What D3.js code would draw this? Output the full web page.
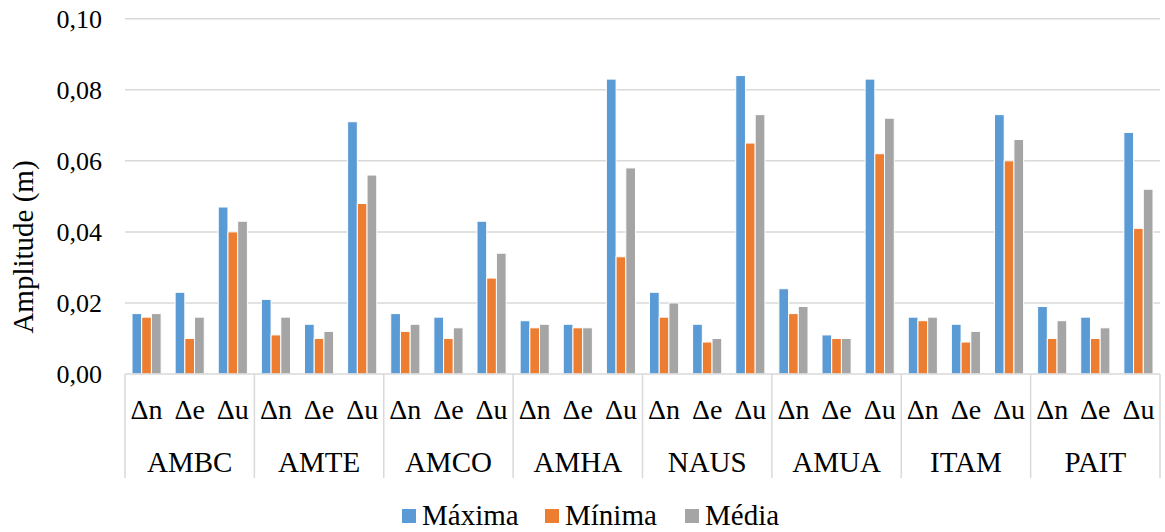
<!DOCTYPE html>
<html><head><meta charset="utf-8">
<script src="https://cdn.jsdelivr.net/npm/d3@7"></script>
<style>html,body{margin:0;padding:0;background:#fff;}svg{display:block;font-family:"Liberation Serif","Times New Roman",serif;}</style>
</head><body>
<svg id="chart" width="1165" height="532"></svg>
<script>
const stations = ["AMBC","AMTE","AMCO","AMHA","NAUS","AMUA","ITAM","PAIT"];
const components = ["Δn","Δe","Δu"];
const seriesNames = ["Máxima","Mínima","Média"];
const colors = ["#5B9BD5","#ED7D31","#A5A5A5"];
const yTicks = [0,0.02,0.04,0.06,0.08,0.10];
// values per station: [Δn, Δe, Δu]
const maxima = [
  [0.017,0.023,0.047],[0.021,0.014,0.071],[0.017,0.016,0.043],[0.015,0.014,0.083],
  [0.023,0.014,0.084],[0.024,0.011,0.083],[0.016,0.014,0.073],[0.019,0.016,0.068]];
const minima = [
  [0.016,0.010,0.040],[0.011,0.010,0.048],[0.012,0.010,0.027],[0.013,0.013,0.033],
  [0.016,0.009,0.065],[0.017,0.010,0.062],[0.015,0.009,0.060],[0.010,0.010,0.041]];
const media = [
  [0.017,0.016,0.043],[0.016,0.012,0.056],[0.014,0.013,0.034],[0.014,0.013,0.058],
  [0.020,0.010,0.073],[0.019,0.010,0.072],[0.016,0.012,0.066],[0.015,0.013,0.052]];
const seriesData = [maxima, minima, media];

const svg = d3.select("#chart");
const mLeft = 125, mRight = 1160, mTop = 18.7, mBottom = 374;
const x0 = d3.scaleBand().domain(stations).range([mLeft,mRight]).padding(0);
const x1 = d3.scaleBand().domain(components).range([0,x0.bandwidth()]).padding(0);
const x2 = d3.scaleBand().domain(seriesNames).range([0,x1.bandwidth()]).paddingInner(0).paddingOuter(0.72);
const y = d3.scaleLinear().domain([0,0.1]).range([mBottom,mTop]);

// gridlines
svg.append("g").selectAll("line").data(yTicks.filter(d=>d>0)).join("line")
  .attr("x1",mLeft).attr("x2",mRight).attr("y1",d=>y(d)).attr("y2",d=>y(d))
  .attr("stroke","#D9D9D9").attr("stroke-width",1.5);

// y tick labels
const fmt = d => d3.format(".2f")(d).replace(".",",");
svg.append("g").selectAll("text").data(yTicks).join("text")
  .attr("x",102).attr("y",d=>y(d)).attr("dy","0.35em").attr("text-anchor","end")
  .attr("font-size",26).attr("fill","#000").text(fmt);

// bars
const flat = [];
stations.forEach((s,i)=>components.forEach((c,j)=>seriesNames.forEach((n,k)=>{
  flat.push({s,c,n,k,v:seriesData[k][i][j]});
})));
svg.append("g").selectAll("rect").data(flat).join("rect")
  .attr("x",d=>x0(d.s)+x1(d.c)+x2(d.n))
  .attr("width",x2.bandwidth())
  .attr("y",d=>y(d.v)).attr("height",d=>y(0)-y(d.v))
  .attr("fill",d=>colors[d.k]).attr("stroke","#fff").attr("stroke-width",1);

// x axis line
svg.append("line").attr("x1",mLeft).attr("x2",mRight).attr("y1",mBottom).attr("y2",mBottom)
  .attr("stroke","#D9D9D9").attr("stroke-width",1.5);
// group separators
const bounds = stations.map(s=>x0(s)).concat([mRight]);
svg.append("g").selectAll("line").data(bounds).join("line")
  .attr("x1",d=>d).attr("x2",d=>d).attr("y1",mBottom).attr("y2",478)
  .attr("stroke","#D9D9D9").attr("stroke-width",1.5);

// component labels
const compLab = [];
stations.forEach(s=>components.forEach(c=>compLab.push({s,c})));
svg.append("g").selectAll("text").data(compLab).join("text")
  .attr("x",d=>x0(d.s)+x1(d.c)+x1.bandwidth()/2).attr("y",419)
  .attr("text-anchor","middle").attr("font-size",28).attr("fill","#000").text(d=>d.c);
// station labels
svg.append("g").selectAll("text").data(stations).join("text")
  .attr("x",d=>x0(d)+x0.bandwidth()/2).attr("y",472)
  .attr("text-anchor","middle").attr("font-size",29).attr("fill","#000").text(d=>d);

// y axis title
svg.append("text").attr("transform","translate(33,247) rotate(-90)")
  .attr("text-anchor","middle").attr("font-size",29).attr("fill","#000").text("Amplitude (m)");

// legend
const legX = [402,545,685];
const lg = svg.append("g").selectAll("g").data(seriesNames).join("g")
  .attr("transform",(d,i)=>`translate(${legX[i]},509)`);
lg.append("rect").attr("width",14).attr("height",14).attr("fill",(d,i)=>colors[i]);
lg.append("text").attr("x",20).attr("y",16).attr("font-size",29).attr("fill","#000").text(d=>d);
</script>
</body></html>
